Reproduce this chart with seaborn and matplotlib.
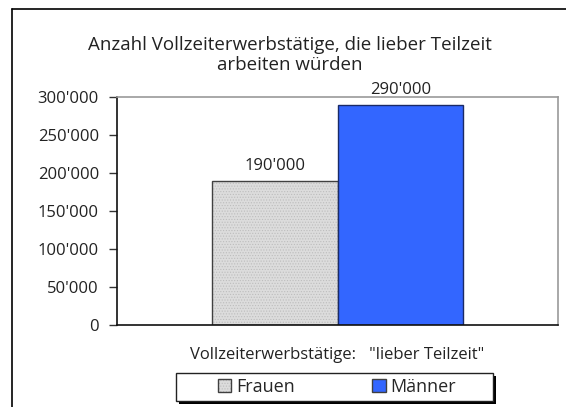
import matplotlib.pyplot as plt
import matplotlib.ticker as mticker
from matplotlib.lines import Line2D
from matplotlib.patches import Patch, Rectangle
import pandas as pd
import seaborn as sns

sns.set_theme(style="white")
plt.rcParams["font.family"] = ["Open Sans", "DejaVu Sans"]
plt.rcParams["hatch.linewidth"] = 0.5

kategorie = ["Vollzeiterwerbstätige:   \"lieber Teilzeit\""]
geschlecht = ["Frauen", "Männer"]
anzahl = [190000, 290000]
farben = ["#DCDCDC", "#3366FF"]
randfarben = ["#404040", "#1A2A66"]

titel = "Anzahl Vollzeiterwerbstätige, die lieber Teilzeit\narbeiten würden"
y_ticks = [0, 50000, 100000, 150000, 200000, 250000, 300000]


def tausender(x, pos=None):
    return f"{int(x):,}".replace(",", "'")


def punkte(patch):
    # feines Punktraster wie im Original, Punkte heller als der Rand
    patch.set_hatch("......")
    if hasattr(patch, "set_hatchcolor"):
        patch.set_hatchcolor("#BDBDBD")
    else:
        patch._hatch_color = (0.74, 0.74, 0.74, 1.0)


df = pd.DataFrame({"Kategorie": kategorie * len(geschlecht), "Geschlecht": geschlecht, "Anzahl": anzahl})

fig = plt.figure(figsize=(5.66, 4.07), dpi=100)
ax = fig.add_axes([117 / 566, 82 / 407, 441 / 566, 228 / 407])

sns.barplot(data=df, x="Kategorie", y="Anzahl", hue="Geschlecht", palette=farben,
            width=0.571, saturation=1, ax=ax, legend=False)

for bar, rand in zip(ax.patches, randfarben):
    bar.set_edgecolor(rand)
    bar.set_linewidth(1.0)
punkte(ax.patches[0])

for cont in ax.containers:
    ax.bar_label(cont, labels=[tausender(v) for v in cont.datavalues], padding=5, fontsize=12, color="#222222")

ax.set_xlim(-0.5, 0.5)
ax.set_ylim(0, 300000)
ax.set_yticks(y_ticks)
ax.yaxis.set_major_formatter(mticker.FuncFormatter(tausender))
ax.tick_params(axis="y", left=True, length=6, width=1, color="#333333", labelsize=12, pad=7, labelcolor="#222222")
ax.tick_params(axis="x", bottom=False, labelsize=12, pad=10, labelcolor="#222222")
ax.set_xlabel("")
ax.set_ylabel("")

for seite in ["left", "bottom"]:
    ax.spines[seite].set_color("#111111")
    ax.spines[seite].set_linewidth(1.2)
for seite in ["top", "right"]:
    ax.spines[seite].set_color("#999999")
    ax.spines[seite].set_linewidth(1.2)

fig.text(290 / 566, 1 - 55 / 407, titel, ha="center", va="center", fontsize=13.5, color="#222222", linespacing=1.2)

# Legende: Kasten mit schwarzem Schatten, Eintraege ohne eigenen Rahmen
box_x, box_y, box_w, box_h = 176 / 566, 6 / 407, 317 / 566, 28 / 407
fig.add_artist(Rectangle((box_x + 3 / 566, box_y - 3 / 407), box_w, box_h, transform=fig.transFigure,
                         facecolor="black", edgecolor="none", zorder=1))
fig.add_artist(Rectangle((box_x, box_y), box_w, box_h, transform=fig.transFigure,
                         facecolor="white", edgecolor="#222222", lw=1.0, zorder=2))

handles = [Patch(facecolor=f, edgecolor="#404040") for f in farben]
punkte(handles[0])
leg = fig.legend(handles, geschlecht, loc="center", ncol=2, frameon=False,
                 bbox_to_anchor=(337 / 566, 1 - 387 / 407),
                 fontsize=13, handlelength=0.75, handleheight=0.75, handletextpad=0.25,
                 columnspacing=4.3, borderpad=0.1)
leg.set_zorder(3)

# Rahmen des Diagrammbereichs (links und oben sichtbar)
fig.add_artist(Line2D([12 / 566, 12 / 566], [0, 1 - 9 / 407], color="black", lw=1.2))
fig.add_artist(Line2D([12 / 566, 1], [1 - 9 / 407, 1 - 9 / 407], color="black", lw=1.2))

fig.savefig("out.png", dpi=100)
